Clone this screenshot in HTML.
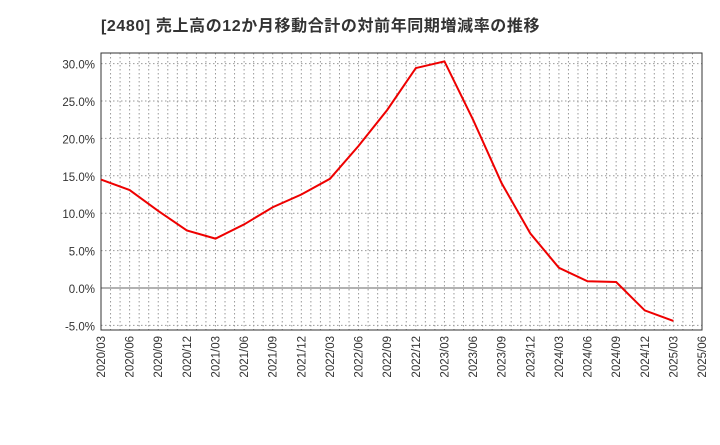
<!DOCTYPE html>
<html><head><meta charset="utf-8"><style>
body{margin:0;background:#fff;width:720px;height:440px;overflow:hidden;font-family:"Liberation Sans","Noto Sans CJK JP",sans-serif}
</style></head><body>
<svg id="c" width="720" height="440" xmlns="http://www.w3.org/2000/svg"></svg>
<script>
const categories=["2020/03","2020/06","2020/09","2020/12","2021/03","2021/06","2021/09","2021/12","2022/03","2022/06","2022/09","2022/12","2023/03","2023/06","2023/09","2023/12","2024/03","2024/06","2024/09","2024/12","2025/03","2025/06"];
const values=[14.5,13.1,10.3,7.7,6.6,8.5,10.8,12.5,14.6,19.0,23.8,29.4,30.3,22.5,14.0,7.3,2.7,0.9,0.8,-3.0,-4.4];
const yTicks=[-5,0,5,10,15,20,25,30];
const L=101,R=702,T=53,B=330;
const x=i=>L+(R-L)*i/(categories.length-1);
const y=v=>288-v*7.48;
const s=document.getElementById('c');const NS='http://www.w3.org/2000/svg';
function mk(t,a,p){const e=document.createElementNS(NS,t);for(const k in a)e.setAttribute(k,a[k]);(p||s).appendChild(e);return e;}
const title=mk('text',{x:101,y:31,'font-size':16,'font-weight':'bold',fill:'#333','letter-spacing':0.6});


title.textContent='[2480]  売上高の12か月移動合計の対前年同期増減率の推移';
const grid=mk('g',{});


for(let m=1;m<(categories.length-1)*3;m++){const xx=L+(R-L)*m/((categories.length-1)*3);mk('line',{x1:xx,x2:xx,y1:T,y2:B,stroke:'#999','stroke-dasharray':'1.5,2.5','stroke-width':1},grid);}
yTicks.forEach(v=>{mk('line',{x1:L,x2:R,y1:y(v),y2:y(v),stroke:v===0?'#666':'#999','stroke-dasharray':v===0?'':'1.5,2.5','stroke-width':1},grid);
const t=mk('text',{x:L-6,y:y(v)+5,'text-anchor':'end','font-size':11.5,fill:'#333'});


t.textContent=v.toFixed(1)+'%';});
categories.forEach((c,i)=>{const t=mk('text',{transform:`translate(${x(i)+4},${B+6}) rotate(-90)`,'text-anchor':'end','font-size':11.5,fill:'#333'});


t.textContent=c;});
const fr=mk('rect',{x:L,y:T,width:R-L,height:B-T,fill:'none',stroke:'#333','stroke-width':1});


const ln=mk('polyline',{points:values.map((v,i)=>x(i)+','+y(v)).join(' '),fill:'none',stroke:'#e00','stroke-width':2});


</script>
</body></html>
